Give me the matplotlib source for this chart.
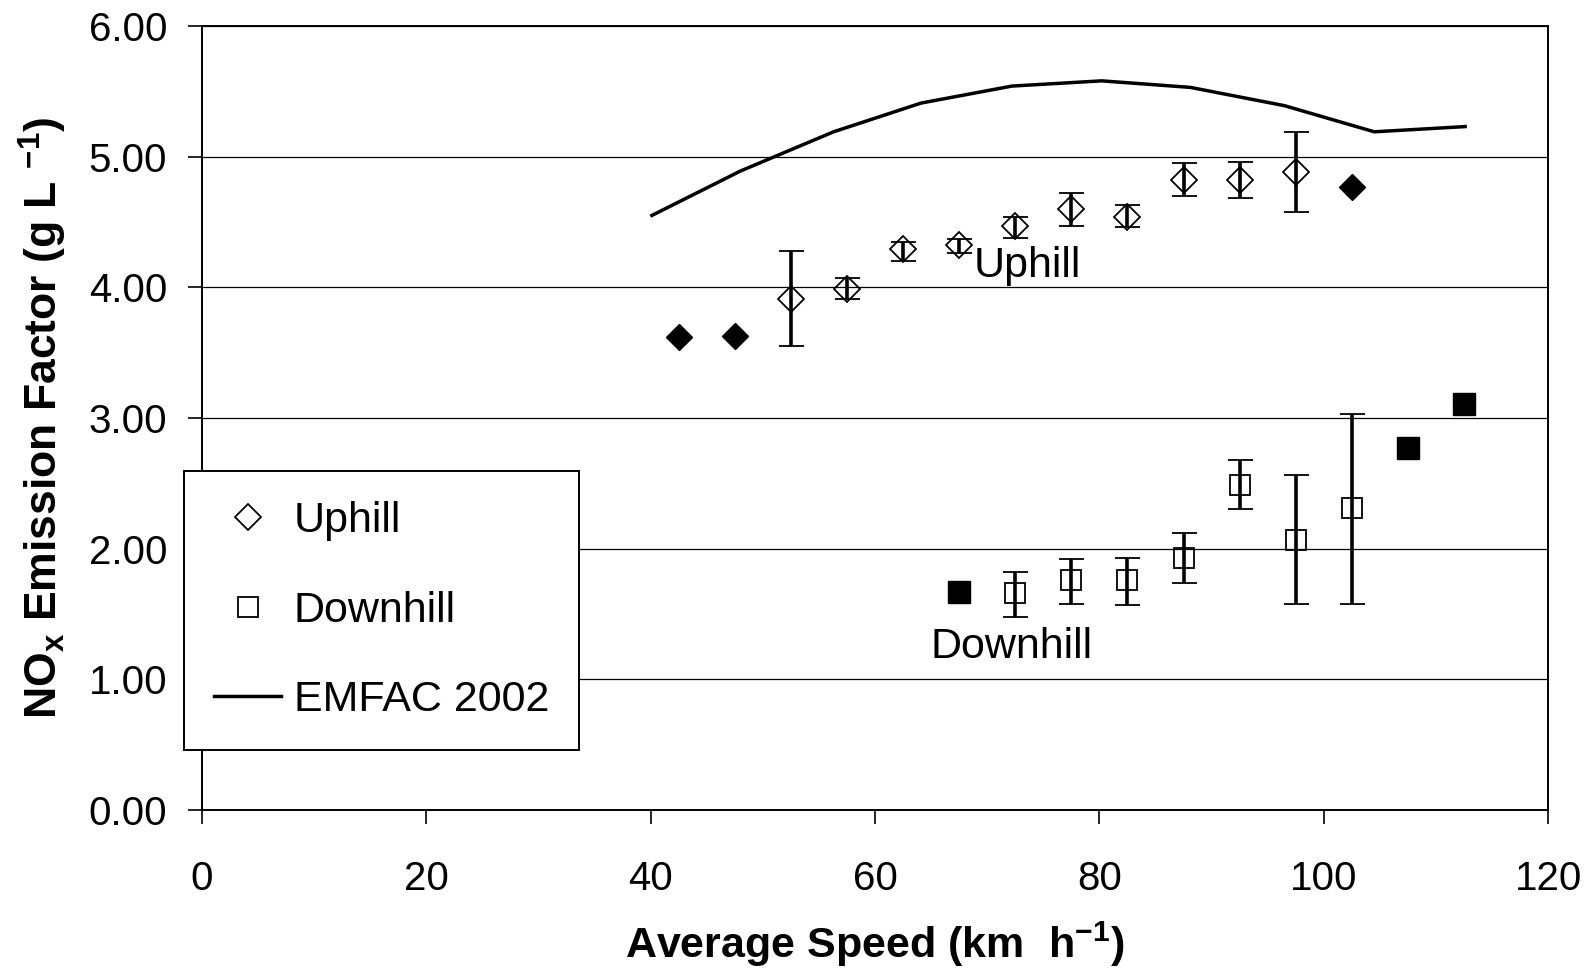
import matplotlib
matplotlib.use("Agg")
import matplotlib.pyplot as plt
from matplotlib.lines import Line2D
import numpy as np

plt.rcParams['font.family'] = ['Liberation Sans', 'DejaVu Sans']

# uphill, open markers with error bars
up_speed = [52.5, 57.5, 62.5, 67.5, 72.5, 77.5, 82.5, 87.5, 92.5, 97.5]
up_ef = [3.91, 3.99, 4.29, 4.32, 4.47, 4.60, 4.54, 4.82, 4.82, 4.88]
up_lo = [3.55, 3.91, 4.20, 4.26, 4.38, 4.47, 4.46, 4.70, 4.68, 4.58]
up_hi = [4.28, 4.07, 4.35, 4.37, 4.54, 4.72, 4.63, 4.95, 4.96, 5.19]
# uphill, filled markers (no error bars)
up_fill_speed = [42.5, 47.5, 102.5]
up_fill_ef = [3.62, 3.63, 4.77]

# downhill, open markers with error bars
dn_speed = [72.5, 77.5, 82.5, 87.5, 92.5, 97.5, 102.5]
dn_ef = [1.66, 1.76, 1.76, 1.93, 2.49, 2.07, 2.31]
dn_lo = [1.48, 1.58, 1.57, 1.74, 2.30, 1.58, 1.58]
dn_hi = [1.82, 1.92, 1.93, 2.12, 2.68, 2.56, 3.03]
# downhill, filled markers
dn_fill_speed = [67.5, 107.5, 112.5]
dn_fill_ef = [1.67, 2.77, 3.11]

# EMFAC 2002 curve
emfac_speed = [40.1, 48.0, 56.3, 64.1, 72.2, 80.2, 88.1, 96.5, 104.5, 112.6]
emfac_ef = [4.55, 4.89, 5.19, 5.41, 5.54, 5.58, 5.53, 5.39, 5.19, 5.23]

fig = plt.figure(figsize=(15.96, 9.69), dpi=100)
ax = fig.add_axes([0.1266, 0.1641, 0.8434, 0.8091])

ax.plot(emfac_speed, emfac_ef, color='black', lw=2.5, zorder=3)

up_err = [np.array(up_ef) - np.array(up_lo), np.array(up_hi) - np.array(up_ef)]
ax.errorbar(up_speed, up_ef, yerr=up_err, fmt='D', ms=13, mfc='none',
            mec='black', mew=1.3, ecolor='black', elinewidth=2.6,
            capsize=9, capthick=2.6, zorder=4)
ax.plot(up_fill_speed, up_fill_ef, 'D', ms=13.5, color='black', zorder=4)

dn_err = [np.array(dn_ef) - np.array(dn_lo), np.array(dn_hi) - np.array(dn_ef)]
ax.errorbar(dn_speed, dn_ef, yerr=dn_err, fmt='s', ms=15, mfc='none',
            mec='black', mew=1.3, ecolor='black', elinewidth=2.6,
            capsize=9, capthick=2.6, zorder=4)
ax.plot(dn_fill_speed, dn_fill_ef, 's', ms=15.5, color='black', zorder=4)

ax.text(73.6, 4.16, "Uphill", ha='center', va='center', fontsize=31)
ax.text(72.2, 1.25, "Downhill", ha='center', va='center', fontsize=31)

ax.set_xlim(0, 120)
ax.set_ylim(0, 6)
ax.set_xticks(np.arange(0, 121, 20))
ax.set_yticks(np.arange(0, 6.01, 1))
ax.set_yticklabels(["%.2f" % v for v in np.arange(0, 6.01, 1)])
ax.yaxis.grid(True, color='black', lw=0.9)
ax.set_axisbelow(True)
ax.tick_params(direction='out', length=10, width=1.2, labelsize=29,
               color='black')
ax.tick_params(axis='y', pad=15)
ax.tick_params(axis='x', pad=26)
for sp in ax.spines.values():
    sp.set_color('black')
    sp.set_linewidth(1.4)

ax.set_xlabel(r"Average Speed (km  h$^{\mathregular{-1}}$)", fontsize=31,
              fontweight='bold')
ax.set_ylabel(r"NO$_{\mathregular{x}}$ Emission Factor (g L $^{\mathregular{-1}}$)",
              fontsize=32, fontweight='bold')
ax.xaxis.set_label_coords(0.5, -0.14)
ax.yaxis.set_label_coords(-0.099, 0.5)

handles = [
    Line2D([], [], marker='D', ls='none', ms=13, mfc='none', mec='black', mew=1.3),
    Line2D([], [], marker='s', ls='none', ms=15, mfc='none', mec='black', mew=1.3),
    Line2D([], [], color='black', lw=2.5),
]
leg = ax.legend(handles, ["Uphill", "Downhill", "EMFAC 2002"], fontsize=31,
                loc='upper left', bbox_to_anchor=(184 / 1596, 1 - 471 / 969),
                bbox_transform=fig.transFigure, borderaxespad=0,
                fancybox=False, framealpha=1, edgecolor='black',
                handlelength=1.55, handletextpad=0.3, labelspacing=1.15,
                borderpad=0.7)
leg.get_frame().set_linewidth(1.4)
leg.set_zorder(10)

fig.savefig("out.png", dpi=100)
